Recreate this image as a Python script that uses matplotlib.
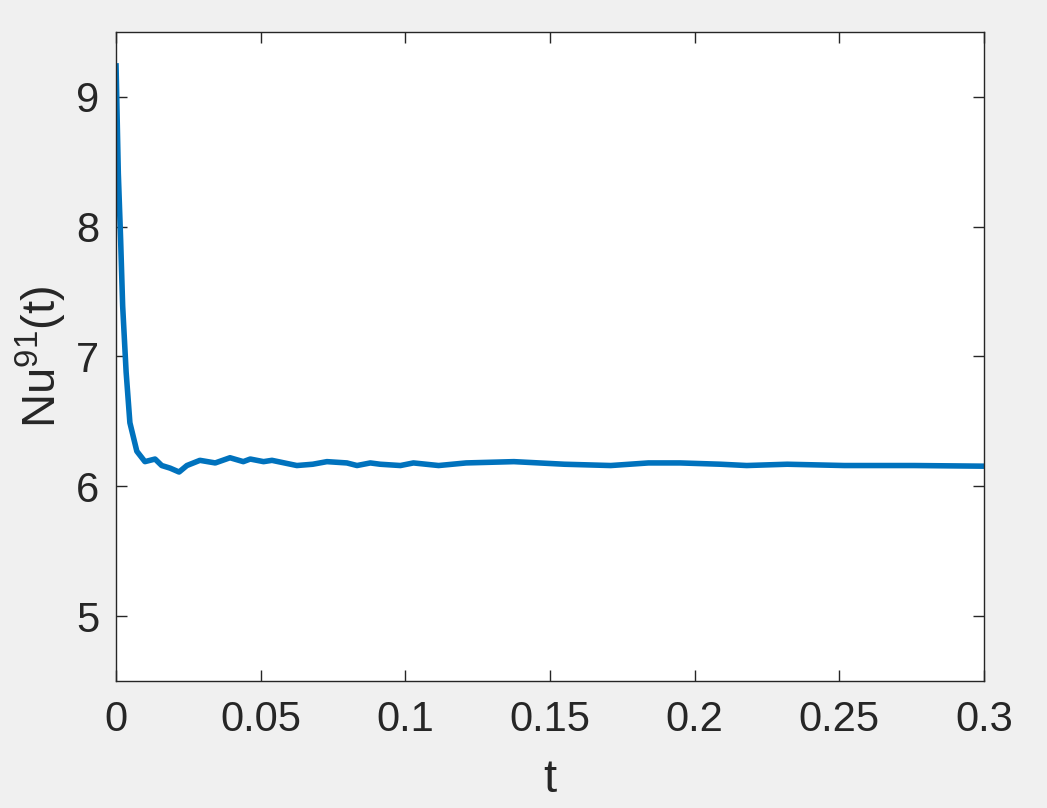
import matplotlib
matplotlib.use("Agg")
import matplotlib.pyplot as plt

t = [0.0, 0.0008, 0.0016, 0.0023, 0.0035, 0.0048, 0.0072, 0.010, 0.0135, 0.0158,
     0.0187, 0.0218, 0.0245, 0.029, 0.0343, 0.0394, 0.044, 0.0464, 0.051, 0.0539,
     0.0625, 0.068, 0.0729, 0.0798, 0.0833, 0.0879, 0.0913, 0.0983, 0.1028, 0.1115,
     0.121, 0.1375, 0.155, 0.171, 0.184, 0.195, 0.209, 0.218, 0.232, 0.2517,
     0.2759, 0.3]
nu = [9.26, 8.41, 7.90, 7.39, 6.88, 6.49, 6.27, 6.19, 6.21, 6.16,
      6.14, 6.11, 6.16, 6.20, 6.18, 6.22, 6.19, 6.21, 6.19, 6.20,
      6.16, 6.17, 6.19, 6.18, 6.16, 6.18, 6.17, 6.16, 6.18, 6.16,
      6.18, 6.19, 6.17, 6.16, 6.18, 6.18, 6.17, 6.16, 6.17, 6.16,
      6.16, 6.155]

xticks = [0, 0.05, 0.1, 0.15, 0.2, 0.25, 0.3]
xticklabels = ["0", "0.05", "0.1", "0.15", "0.2", "0.25", "0.3"]
yticks = [5, 6, 7, 8, 9]

plt.rcParams['font.family'] = ['Liberation Sans', 'DejaVu Sans']
plt.rcParams['mathtext.fontset'] = 'custom'
plt.rcParams['mathtext.rm'] = 'Liberation Sans'

fig = plt.figure(figsize=(10.47, 8.08), dpi=100, facecolor='#f0f0f0')
ax = fig.add_axes([116/1047, 1 - 681/808, (984-116)/1047, (681-32)/808])
ax.set_facecolor('white')
ax.plot(t, nu, color='#0072BD', linewidth=4.0, solid_joinstyle='round', solid_capstyle='butt')
ax.set_xlim(0, 0.3)
ax.set_ylim(4.5, 9.5)
ax.set_xticks(xticks)
ax.set_xticklabels(xticklabels)
ax.set_yticks(yticks)
ax.tick_params(direction='in', length=8, width=1, colors='#262626', labelsize=30,
               top=True, right=True, pad=12)
ax.tick_params(axis='x', pad=14)
for s in ax.spines.values():
    s.set_color('#262626')
    s.set_linewidth(1)
ax.set_xlabel('t', fontsize=34, color='#262626')
ax.set_ylabel(r'Nu$^{91}$(t)', fontsize=34, color='#262626')
ax.xaxis.label.set_verticalalignment('center')
ax.yaxis.label.set_verticalalignment('center')
ax.xaxis.set_label_coords(0.5, -0.152)
ax.yaxis.set_label_coords(-0.086, 0.5)
fig.savefig('out.png', dpi=100, facecolor=fig.get_facecolor())
